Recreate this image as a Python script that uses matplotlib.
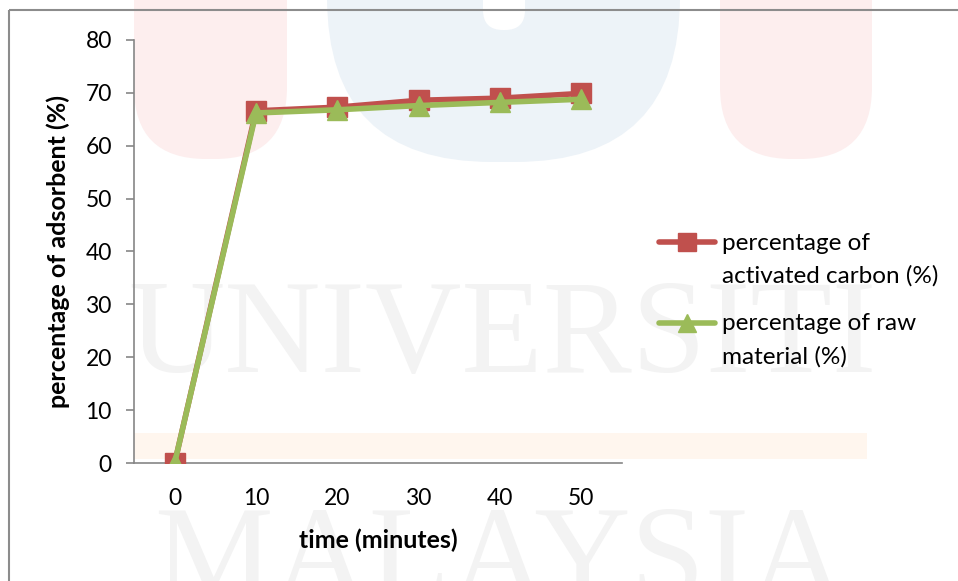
import numpy as np
import matplotlib
matplotlib.use("Agg")
import matplotlib.pyplot as plt
from matplotlib.patches import FancyBboxPatch, Rectangle
from matplotlib.legend_handler import HandlerLine2D

# adsorption readings
times = [0, 10, 20, 30, 40, 50]
activated_carbon = [0, 66.6, 67.3, 68.6, 69.0, 69.9]
raw_material = [0, 66.2, 66.8, 67.6, 68.2, 68.8]
series_labels = ["percentage of\nactivated carbon (%)", "percentage of raw\nmaterial (%)"]

RED = "#c0504d"
GREEN = "#9bbb59"
AXIS_GREY = "#868686"

plt.rcParams["font.family"] = ["Lato", "DejaVu Sans"]


class TopLineHandler(HandlerLine2D):
    """Put the legend sample next to the first line of a two-line label."""

    def __init__(self, shift, **kw):
        super().__init__(**kw)
        self.shift = shift

    def create_artists(self, legend, orig_handle, xdescent, ydescent,
                       width, height, fontsize, trans):
        artists = super().create_artists(legend, orig_handle, xdescent, ydescent,
                                         width, height, fontsize, trans)
        for a in artists:
            a.set_ydata(np.asarray(a.get_ydata()) + self.shift)
        return artists


fig = plt.figure(figsize=(9.58, 5.81), dpi=100)

# faint university watermark behind the chart, in pixel units
bg = fig.add_axes([0, 0, 1, 1], zorder=-1)
bg.set_xlim(0, 958)
bg.set_ylim(581, 0)
bg.axis("off")
for x0, x1 in [(134, 287), (720, 872)]:
    bg.add_patch(FancyBboxPatch((x0, -200), x1 - x0, 359,
                                boxstyle="round,pad=0,rounding_size=72",
                                fc="#fdeeee", ec="none"))
bg.add_patch(FancyBboxPatch((327, -300), 353, 462,
                            boxstyle="round,pad=0,rounding_size=165",
                            fc="#edf3f8", ec="none"))
bg.add_patch(FancyBboxPatch((483, -100), 42, 130,
                            boxstyle="round,pad=0,rounding_size=20",
                            fc="white", ec="none"))
bg.add_patch(Rectangle((134, 433), 733, 26, fc="#fff6ee", ec="none"))
bg.text(502, 372, "UNIVERSITI", family="Liberation Serif", fontsize=96,
        color="#f3f3f3", ha="center", va="baseline")
bg.text(500, 598, "MALAYSIA", family="Liberation Serif", fontsize=96,
        color="#f3f3f3", ha="center", va="baseline")
# chart area border
bg.add_patch(Rectangle((9, 10), 1200, 1000, fill=False, ec="#8c8c8c", lw=1.5))

ax = fig.add_axes([134 / 958, 1 - 463 / 581, 488 / 958, 423 / 581])
ax.set_facecolor("none")

x = np.arange(len(times))
ax.plot(x, activated_carbon, color=RED, lw=4, marker="s", ms=14,
        mfc=RED, mec=RED, solid_capstyle="round", label=series_labels[0], zorder=3)
ax.plot(x, raw_material, color=GREEN, lw=4, marker="^", ms=14,
        mfc=GREEN, mec=GREEN, solid_capstyle="round", label=series_labels[1], zorder=4)

ax.set_xlim(-0.5, len(times) - 0.5)
ax.set_ylim(0, 80)
ax.set_yticks(np.arange(0, 81, 10))
ax.set_xticks(x, [str(t) for t in times])

for side in ["top", "right"]:
    ax.spines[side].set_visible(False)
for side in ["left", "bottom"]:
    ax.spines[side].set_color(AXIS_GREY)
    ax.spines[side].set_linewidth(1.2)
ax.spines["bottom"].set_zorder(2)

ax.tick_params(axis="y", length=6, width=1.2, color=AXIS_GREY, pad=10,
               labelsize=16.5)
ax.tick_params(axis="x", length=0, pad=18, labelsize=16.5)

ax.set_xlabel("time (minutes)", fontsize=18, fontweight="bold", labelpad=14)
ax.set_ylabel("percentage of adsorbent (%)", fontsize=18, fontweight="bold",
              labelpad=11)

handles, labels = ax.get_legend_handles_labels()
leg = ax.legend(handles, labels, loc="center left",
                bbox_to_anchor=(659 / 958, 1 - 300 / 581),
                bbox_transform=fig.transFigure, frameon=False,
                fontsize=17.5, handlelength=2.3, handletextpad=0.3,
                labelspacing=1.1, borderpad=0, borderaxespad=0, markerscale=0.95,
                handler_map={h: TopLineHandler(shift=12.5) for h in handles})
for t in leg.get_texts():
    t.set_linespacing(1.65)

fig.savefig("out.png", dpi=100)
